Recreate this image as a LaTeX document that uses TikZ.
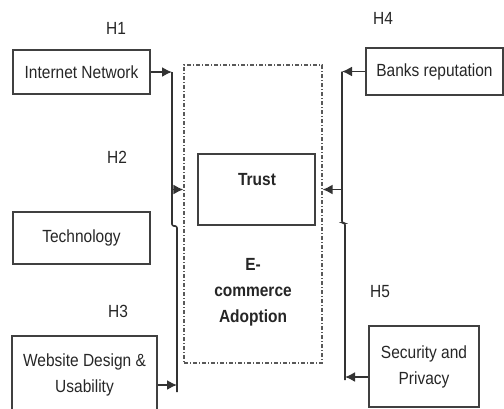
\documentclass[tikz,border=0pt]{standalone}
\usepackage{fontspec}
\setmainfont{Liberation Sans}[FakeStretch=0.88]
\usetikzlibrary{arrows.meta}

\begin{document}
\begin{tikzpicture}[
  x=0.5pt,
  y=-0.5pt,
  every node/.style={
    font=\fontsize{8.8}{13}\selectfont,
    text=black!85
  },
  factor/.style={
    rectangle,
    draw=black!75,
    line width=0.9pt,
    align=center,
    inner sep=0pt
  },
  boldtext/.style={
    font=\fontsize{8.8}{13}\selectfont\bfseries,
    align=center
  },
  link/.style={draw=black!80, line width=0.8pt},
  arr/.style={link, -{Latex[length=5pt,width=5pt]}}
]
\useasboundingbox (0,0) rectangle (504,408);
\clip (0,0) rectangle (504,408);
% outer frame and trust
\node[draw=black!65, line width=0.6pt, dash pattern=on 2pt off 1pt on 0.5pt off 1pt,
  minimum width=69pt, minimum height=149pt] (adopt) at (253,214) {};
\node[factor, minimum width=58.5pt, minimum height=35.5pt] (trust) at (256.5,189.5) {};
\node[boldtext] (trustlbl) at (257,180) {Trust};
\node[boldtext] (adoptlbl) at (253,292) {E-\\commerce\\Adoption};
% factors
\node[factor, minimum width=68.5pt, minimum height=22pt] (inet) at (81.5,72) {Internet Network};
\node[factor, minimum width=68.5pt, minimum height=26pt] (tech) at (81.5,238) {Technology};
\node[factor, minimum width=72.5pt, minimum height=39pt] (web) at (84.5,375) {Website Design \&\\Usability};
\node[factor, minimum width=68.5pt, minimum height=23.5pt] (banks) at (434.5,71.5) {Banks reputation};
\node[factor, minimum width=55pt, minimum height=40.5pt] (sec) at (424,366.5) {Security and\\Privacy};
% hypotheses
\node (h1) at (116,28) {H1};
\node (h2) at (117,157) {H2};
\node (h3) at (118,311) {H3};
\node (h4) at (383,18) {H4};
\node (h5) at (380,292) {H5};
% left bracket
\coordinate (ltop) at (172,72);
\coordinate (ljog) at (172,226);
\coordinate (lbot) at (177,392);
\draw[link, rounded corners=1pt] (ltop) -- (ljog) -- ++(5,0) -- (lbot);
\draw[arr] (inet.east) -- (inet.east -| ltop);
\coordinate (webout) at ([yshift=-5pt]web.east);
\draw[arr] (webout) -- (webout -| lbot);
\draw[arr] (ltop |- trust.west) -- (adopt.west |- trust.west);
% right bracket
\coordinate (rtop) at (342,71.5);
\coordinate (rjog) at (342,223);
\coordinate (rbot) at (345,380);
\draw[link, rounded corners=1pt] (rtop) -- (rjog) -- ++(3,0) -- (rbot);
\draw[arr] (banks.west) -- (banks.west -| rtop);
\coordinate (secout) at ([yshift=-5.25pt]sec.west);
\draw[arr] (secout) -- (secout -| rbot);
\draw[arr] (rtop |- trust.east) -- (adopt.east |- trust.east);
\end{tikzpicture}
\end{document}
